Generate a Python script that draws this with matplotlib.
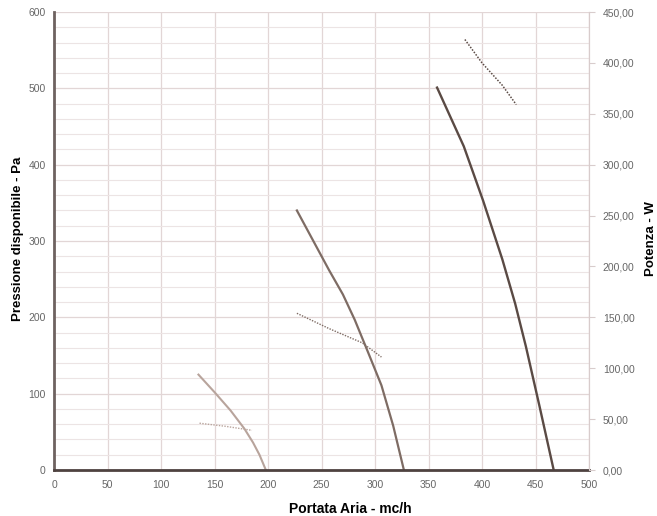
import matplotlib.pyplot as plt
from matplotlib.ticker import MultipleLocator, FuncFormatter

plt.rcParams['font.family'] = ['Liberation Sans', 'DejaVu Sans']

# curve data (portata mc/h, pressione Pa)
x_small = [135, 150, 165, 178, 186, 192, 198]
p_small = [125, 102, 78, 54, 36, 20, 0]
x_mid = [227, 242, 257, 270, 281, 293, 306, 317, 327]
p_mid = [340, 301, 262, 230, 197, 156, 111, 58, 0]
x_big = [358, 370, 383, 401, 419, 431, 441, 454, 467]
p_big = [501, 464, 424, 353, 276, 218, 162, 82, 0]

# power curves (W, right axis)
xw_small = [136, 160, 185]
w_small = [46, 43, 39]
xw_mid = [227, 257, 288, 306]
w_mid = [154, 139, 125, 111]
xw_big = [384, 400, 419, 432]
w_big = [423, 400, 378, 359]

c_small = '#b8a49c'
c_mid = '#7e6c64'
c_big = '#5a4a44'

fig = plt.figure(figsize=(6.57, 5.16), dpi=100)
ax = fig.add_axes([0.0822, 0.0891, 0.8143, 0.8876])
ax.set_xlim(0, 500)
ax.set_ylim(0, 600)

ax.xaxis.set_major_locator(MultipleLocator(50))
ax.yaxis.set_major_locator(MultipleLocator(100))
ax.yaxis.set_minor_locator(MultipleLocator(20))
ax.grid(True, which='major', color='#e2d6d6', lw=0.9)
ax.grid(True, which='minor', axis='y', color='#ece4e4', lw=0.8)
ax.set_axisbelow(True)

ax.plot(x_small, p_small, color=c_small, lw=1.5)
ax.plot(x_mid, p_mid, color=c_mid, lw=1.6)
ax.plot(x_big, p_big, color=c_big, lw=1.7)

ax.spines['top'].set_visible(False)
ax.spines['right'].set_color('#d8cccc')
ax.spines['left'].set_color('#6e6260')
ax.spines['left'].set_linewidth(2)
ax.spines['bottom'].set_color('#4e4240')
ax.spines['bottom'].set_linewidth(2)
ax.tick_params(which='both', length=0, labelsize=7.5, colors='#666666', pad=6)
ax.tick_params(axis='x', pad=7)

ax.set_xlabel('Portata Aria - mc/h', fontsize=10, fontweight='bold')
ax.xaxis.set_label_coords(0.553, -0.07)
ax.set_ylabel('Pressione disponibile - Pa', fontsize=9.5, fontweight='bold')
ax.yaxis.set_label_coords(-0.057, 0.505)

ax2 = ax.twinx()
ax2.set_ylim(0, 450)
ax2.yaxis.set_major_locator(MultipleLocator(50))
ax2.yaxis.set_major_formatter(FuncFormatter(lambda v, p: '{:.2f}'.format(v).replace('.', ',')))
ax2.plot(xw_small, w_small, color=c_small, lw=1.0, ls=(0, (1, 1)))
ax2.plot(xw_mid, w_mid, color=c_mid, lw=1.0, ls=(0, (1, 1)))
ax2.plot(xw_big, w_big, color=c_big, lw=1.1, ls=(0, (1, 1)))
for s in ['top', 'left', 'bottom']:
    ax2.spines[s].set_visible(False)
ax2.spines['right'].set_color('#d8cccc')
ax2.tick_params(axis='y', length=4, color='#d8cccc', labelsize=7.5, labelcolor='#666666', pad=6)
ax2.set_ylabel('Potenza - W', fontsize=9.5, fontweight='bold', rotation=90, va='center')
ax2.yaxis.set_label_coords(1.115, 0.505)

fig.savefig('out.png', dpi=100)
